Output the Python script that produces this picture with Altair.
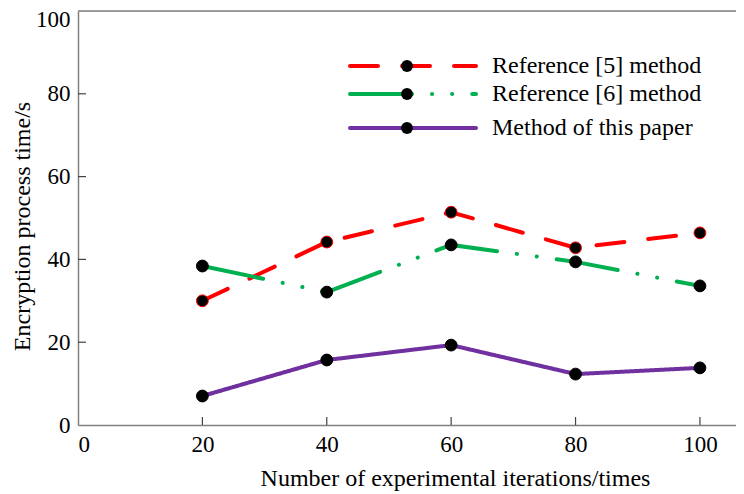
import altair as alt
import pandas as pd

iterations = [20, 40, 60, 80, 100]
ref5 = [30.0, 44.2, 51.4, 42.8, 46.4]
ref6 = [38.4, 32.1, 43.5, 39.4, 33.6]
ours = [7.0, 15.7, 19.3, 12.3, 13.8]

series_names = ["Reference [5] method", "Reference [6] method", "Method of this paper"]
series_values = [ref5, ref6, ours]
series_colors = ["#ff0000", "#00b050", "#7030a0"]
series_dashes = [[28, 24], [62, 20, 0.1, 20, 0.1, 20], [1, 0]]

x_ticks = [0, 20, 40, 60, 80, 100]
y_ticks = [0, 20, 40, 60, 80, 100]

FONT = "Liberation Serif"
W, H = 658, 414
PAD_L, PAD_T, PAD_B = 70, 3, 66

x_scale = alt.Scale(domain=[0, 105.8], nice=False, zero=False)
y_scale = alt.Scale(domain=[0, 100], nice=False)

x_axis = alt.Axis(values=x_ticks, tickSize=0, grid=False, labelFont=FONT, labelFontSize=23,
                  labelColor="black", labelPadding=8, domainColor="#808080", domainWidth=1.5,
                  title="Number of experimental iterations/times", titleFont=FONT, titleFontSize=24,
                  titleFontWeight="normal", titleColor="black", titleX=377, titleY=53,
                  titleBaseline="middle", titleAlign="center")
y_axis = alt.Axis(values=y_ticks, tickSize=0, grid=False, labelFont=FONT, labelFontSize=23,
                  labelColor="black", labelPadding=8, domainColor="#808080", domainWidth=1.5,
                  labelOffset={"condition": {"test": "datum.value == 100", "value": 8}, "value": 0},
                  title="Encryption process time/s", titleFont=FONT, titleFontSize=24,
                  titleFontWeight="normal", titleColor="black", titleX=-56, titleY=215,
                  titleAngle=-90, titleBaseline="middle", titleAlign="center")

layers = []

base_df = pd.DataFrame({"x": iterations, "y": ours})
layers.append(
    alt.Chart(base_df).mark_point(opacity=0).encode(
        x=alt.X("x:Q", scale=x_scale, axis=x_axis),
        y=alt.Y("y:Q", scale=y_scale, axis=y_axis),
    )
)

# top border line
layers.append(
    alt.Chart(pd.DataFrame({"a": [0]})).mark_rule(color="#808080", strokeWidth=1.5).encode(
        y=alt.datum(100), x=alt.value(0), x2=alt.value(W)
    )
)

# inward ticks
layers.append(
    alt.Chart(pd.DataFrame({"t": x_ticks[1:]})).mark_rule(color="#444444", strokeWidth=1.2).encode(
        x=alt.X("t:Q", scale=x_scale), y=alt.value(H), y2=alt.value(H - 8)
    )
)
layers.append(
    alt.Chart(pd.DataFrame({"t": y_ticks[1:-1]})).mark_rule(color="#444444", strokeWidth=1.2).encode(
        y=alt.Y("t:Q", scale=y_scale), x=alt.value(0), x2=alt.value(8)
    )
)

for name, vals, col, dash in zip(series_names, series_values, series_colors, series_dashes):
    df = pd.DataFrame({"x": iterations, "y": vals})
    layers.append(
        alt.Chart(df).mark_line(color=col, strokeWidth=4, strokeDash=dash, strokeCap="round").encode(
            x=alt.X("x:Q", scale=x_scale), y=alt.Y("y:Q", scale=y_scale)
        )
    )
    stroke_col = col if col == "#ff0000" else "black"
    layers.append(
        alt.Chart(df).mark_point(filled=True, color="black", size=140, opacity=1,
                                 stroke=stroke_col, strokeWidth=1).encode(
            x=alt.X("x:Q", scale=x_scale), y=alt.Y("y:Q", scale=y_scale)
        )
    )

# manual legend
legend_rows_y = [55, 83, 117]
for name, col, dash, ly in zip(series_names, series_colors, series_dashes, legend_rows_y):
    ldf = pd.DataFrame({"label": [name]})
    layers.append(
        alt.Chart(ldf).mark_rule(color=col, strokeWidth=4, strokeDash=dash, strokeCap="round").encode(
            x=alt.value(272), x2=alt.value(398), y=alt.value(ly)
        )
    )
    layers.append(
        alt.Chart(ldf).mark_point(filled=True, color="black", size=140, opacity=1).encode(
            x=alt.value(329), y=alt.value(ly)
        )
    )
    layers.append(
        alt.Chart(ldf).mark_text(align="left", baseline="middle", font=FONT, fontSize=24,
                                 color="black").encode(
            x=alt.value(414), y=alt.value(ly), text="label:N"
        )
    )

chart = alt.layer(*layers).properties(
    width=W, height=H,
    autosize=alt.AutoSizeParams(type="none"),
    padding={"left": PAD_L, "top": PAD_T, "right": 0, "bottom": PAD_B},
).configure_view(stroke=None).configure(background="white")

chart.save("out.html", embed_options={"renderer": "svg", "actions": False})
